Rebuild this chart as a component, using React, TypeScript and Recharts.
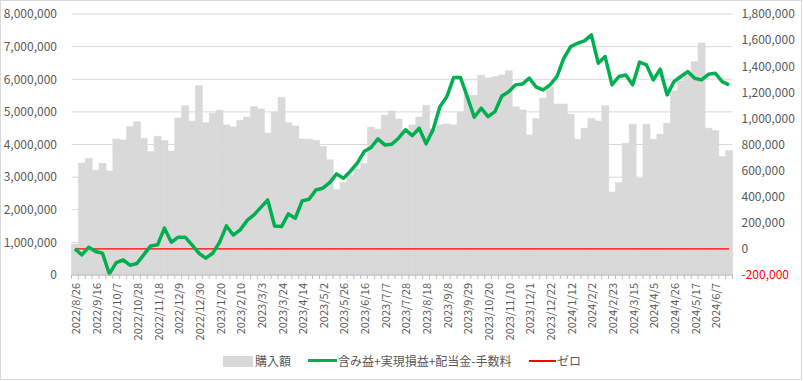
import { ComposedChart, Bar, Line, XAxis, YAxis, CartesianGrid } from 'recharts'

// 週次の日付（カテゴリ）
const dates = [
  '2022/8/26', '2022/9/2', '2022/9/9', '2022/9/16', '2022/9/23', '2022/9/30', '2022/10/7', '2022/10/14', '2022/10/21', '2022/10/28',
  '2022/11/4', '2022/11/11', '2022/11/18', '2022/11/25', '2022/12/2', '2022/12/9', '2022/12/16', '2022/12/23', '2022/12/30',
  '2023/1/6', '2023/1/13', '2023/1/20', '2023/1/27', '2023/2/3', '2023/2/10', '2023/2/17', '2023/2/24', '2023/3/3', '2023/3/10',
  '2023/3/17', '2023/3/24', '2023/3/31', '2023/4/7', '2023/4/14', '2023/4/21', '2023/4/28', '2023/5/2', '2023/5/12', '2023/5/19',
  '2023/5/26', '2023/6/2', '2023/6/9', '2023/6/16', '2023/6/23', '2023/6/30', '2023/7/7', '2023/7/14', '2023/7/21', '2023/7/28',
  '2023/8/4', '2023/8/11', '2023/8/18', '2023/8/25', '2023/9/1', '2023/9/8', '2023/9/15', '2023/9/22', '2023/9/29', '2023/10/6',
  '2023/10/13', '2023/10/20', '2023/10/27', '2023/11/3', '2023/11/10', '2023/11/17', '2023/11/24', '2023/12/1', '2023/12/8', '2023/12/15',
  '2023/12/22', '2023/12/29', '2024/1/5', '2024/1/12', '2024/1/19', '2024/1/26', '2024/2/2', '2024/2/9', '2024/2/16', '2024/2/23',
  '2024/3/1', '2024/3/8', '2024/3/15', '2024/3/22', '2024/3/29', '2024/4/5', '2024/4/12', '2024/4/19', '2024/4/26', '2024/5/3',
  '2024/5/10', '2024/5/17', '2024/5/24', '2024/5/31', '2024/6/7', '2024/6/14', '2024/6/21',
]

// 購入額（左軸）
const purchase = [
  950000, 3430000, 3570000, 3210000, 3420000, 3190000, 4170000, 4140000, 4550000, 4700000,
  4190000, 3780000, 4250000, 4120000, 3800000, 4810000, 5190000, 4720000, 5800000, 4670000,
  4960000, 5050000, 4600000, 4540000, 4740000, 4840000, 5160000, 5090000, 4350000, 4980000,
  5450000, 4670000, 4570000, 4170000, 4160000, 4120000, 3940000, 3530000, 2620000, 2840000,
  3050000, 3250000, 3420000, 4530000, 4470000, 4900000, 5030000, 4780000, 4320000, 4600000,
  4840000, 5200000, 4480000, 4600000, 4630000, 4600000, 4980000, 5520000, 5500000, 6120000,
  6040000, 6080000, 6130000, 6260000, 5160000, 5060000, 4290000, 4800000, 5420000, 5760000,
  5240000, 5240000, 4930000, 4160000, 4500000, 4800000, 4720000, 5190000, 2540000, 2830000,
  4040000, 4620000, 2970000, 4620000, 4160000, 4310000, 4650000, 5640000, 5950000, 6160000,
  6540000, 7110000, 4500000, 4430000, 3630000, 3810000,
]

// 含み益+実現損益+配当金-手数料（右軸）
const profit = [
  0, -46000, 13000, -20000, -33000, -192000, -105000, -85000, -125000, -112000,
  -44000, 23000, 31000, 159000, 51000, 90000, 90000, 31000, -33000, -71000,
  -33000, 50000, 176000, 106000, 146000, 218000, 261000, 318000, 375000, 176000,
  171000, 268000, 235000, 368000, 381000, 452000, 465000, 508000, 575000, 542000,
  595000, 657000, 746000, 777000, 843000, 797000, 802000, 848000, 912000, 868000,
  925000, 805000, 912000, 1090000, 1165000, 1313000, 1313000, 1162000, 1009000, 1078000,
  1014000, 1052000, 1172000, 1205000, 1257000, 1264000, 1308000, 1240000, 1218000, 1257000,
  1321000, 1461000, 1550000, 1576000, 1594000, 1640000, 1423000, 1474000, 1257000, 1321000,
  1333000, 1257000, 1431000, 1410000, 1295000, 1377000, 1180000, 1282000, 1321000, 1359000,
  1308000, 1295000, 1338000, 1346000, 1282000, 1257000,
]

// ゼロ線
const zeroLine = new Array(dates.length).fill(0)

const leftTicks = [0, 1000000, 2000000, 3000000, 4000000, 5000000, 6000000, 7000000, 8000000]
const rightTicks = [-200000, 0, 200000, 400000, 600000, 800000, 1000000, 1200000, 1400000, 1600000, 1800000]

const COLORS = {
  bar: '#d9d9d9',
  profit: '#00b050',
  zero: '#ff0000',
  text: '#595959',
  grid: '#d9d9d9',
}

const FONT = '"Noto Sans CJK JP", "Noto Sans", sans-serif'

const data = dates.map((d, i) => ({
  date: d,
  購入額: purchase[i],
  損益: profit[i],
  ゼロ: zeroLine[i],
}))

function NumTick(props: any) {
  const { x, y, payload, textAnchor } = props
  const v = payload.value as number
  return (
    <text
      x={x}
      y={y}
      dy="0.36em"
      textAnchor={textAnchor}
      fontSize={12}
      fontFamily={FONT}
      fill={v < 0 ? COLORS.zero : COLORS.text}
    >
      {v.toLocaleString('en-US')}
    </text>
  )
}

function DateTick(props: any) {
  const { x, y, payload, index } = props
  const half = payload.offset ?? 661 / dates.length / 2
  const isLast = index === dates.length - 1
  return (
    <g>
      <line x1={x - half} x2={x - half} y1={y} y2={y + 4} stroke="#bfbfbf" />
      {isLast && <line x1={x + half} x2={x + half} y1={y} y2={y + 4} stroke="#bfbfbf" />}
      {index % 3 === 0 && (
        <text
          x={x}
          y={y + 8}
          transform={`rotate(-90, ${x}, ${y + 8})`}
          textAnchor="end"
          dominantBaseline="central"
          fontSize={11}
          fontFamily={FONT}
          fill={COLORS.text}
        >
          {payload.value}
        </text>
      )}
    </g>
  )
}

const legendText = { position: 'absolute' as const, top: 352, fontSize: 12, lineHeight: '18px', color: COLORS.text, fontFamily: FONT, whiteSpace: 'nowrap' as const }

export default function App() {
  return (
    <div style={{ position: 'absolute', left: 0, top: 0, width: 803, height: 381, background: '#fff' }}>
      <ComposedChart
        width={803}
        height={381}
        data={data}
        margin={{ top: 14, right: 0, bottom: 0, left: 0 }}
        barCategoryGap={0}
        barGap={0}
      >
        <CartesianGrid yAxisId="left" vertical={false} stroke={COLORS.grid} />
        <XAxis
          dataKey="date"
          interval={0}
          height={106}
          tickSize={0}
          tickMargin={0}
          tickLine={false}
          axisLine={{ stroke: '#bfbfbf' }}
          tick={<DateTick />}
        />
        <YAxis
          yAxisId="left"
          width={71.5}
          domain={[0, 8000000]}
          ticks={leftTicks}
          axisLine={false}
          tickLine={false}
          tickSize={0}
          tickMargin={14.5}
          tick={<NumTick />}
        />
        <YAxis
          yAxisId="right"
          orientation="right"
          width={70.5}
          domain={[-200000, 1800000]}
          ticks={rightTicks}
          axisLine={false}
          tickLine={false}
          tickSize={0}
          tickMargin={9}
          tick={<NumTick />}
        />
        <Bar yAxisId="left" dataKey="購入額" fill={COLORS.bar} stroke={COLORS.bar} strokeWidth={0.6} isAnimationActive={false} />
        <Line yAxisId="right" dataKey="ゼロ" stroke={COLORS.zero} strokeWidth={1.2} dot={false} type="linear" isAnimationActive={false} />
        <Line yAxisId="right" dataKey="損益" stroke={COLORS.profit} strokeWidth={3.5} dot={false} type="linear" strokeLinejoin="round" isAnimationActive={false} />
      </ComposedChart>

      {/* 凡例 */}
      <div style={{ position: 'absolute', left: 223, top: 356, width: 30, height: 11, background: COLORS.bar }} />
      <div style={{ ...legendText, left: 255 }}>購入額</div>
      <div style={{ position: 'absolute', left: 308, top: 359, width: 29, height: 3, background: COLORS.profit }} />
      <div style={{ ...legendText, left: 338 }}>含み益+実現損益+配当金-手数料</div>
      <div style={{ position: 'absolute', left: 529, top: 360, width: 27, height: 1.5, background: COLORS.zero }} />
      <div style={{ ...legendText, left: 557 }}>ゼロ</div>

      <div style={{ position: 'absolute', left: 0, top: 0, width: 802, height: 380, border: '1px solid #d9d9d9', boxSizing: 'border-box', pointerEvents: 'none' }} />
    </div>
  )
}
